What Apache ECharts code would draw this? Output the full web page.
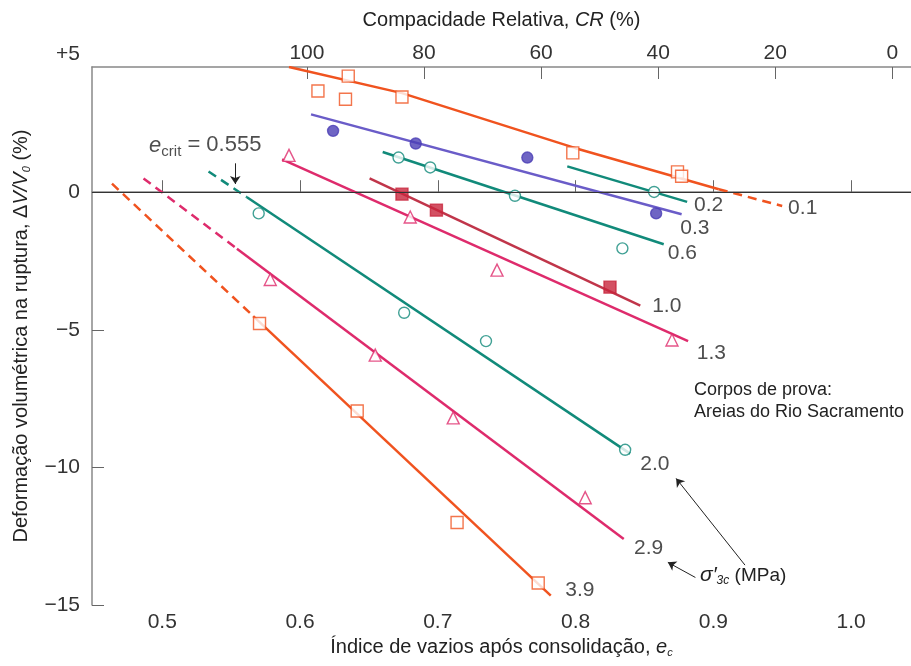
<!DOCTYPE html>
<html>
<head>
<meta charset="utf-8">
<script src="https://cdn.jsdelivr.net/npm/echarts@6/dist/echarts.min.js"></script>
<style>
html,body{margin:0;padding:0;background:#fff;}
#main{width:911px;height:666px;}
</style>
</head>
<body>
<div id="main"></div>
<script>
// indices de vazios limites (escala de cima, CR)
var EMAX = 1.03, EMIN = 0.605;
var eTicks = [0.5, 0.6, 0.7, 0.8, 0.9, 1.0];
var crTicks = [100, 80, 60, 40, 20, 0];
var dvTicks = [5, 0, -5, -10, -15];

// sigma'3c = 0.1 MPa
var fit01 = [[0.592, 4.55], [0.674, 3.6], [0.80, 1.6], [0.904, 0.11]];
var dash01 = [[0.904, 0.11], [0.95, -0.5]];
var pts01 = [[0.613, 3.68], [0.635, 4.22], [0.633, 3.38], [0.674, 3.46], [0.798, 1.43], [0.874, 0.74], [0.877, 0.58]];
// 0.2
var fit02 = [[0.794, 0.94], [0.881, -0.35]];
var pts02 = [[0.857, 0.01]];
// 0.3
var fit03 = [[0.608, 2.83], [0.877, -0.8]];
var pts03 = [[0.624, 2.23], [0.684, 1.77], [0.765, 1.26], [0.8585, -0.77]];
// 0.6
var fit06 = [[0.660, 1.46], [0.864, -1.89]];
var pts06 = [[0.6715, 1.26], [0.6945, 0.9], [0.756, -0.13], [0.834, -2.04]];
// 1.0
var fit10 = [[0.6505, 0.5], [0.847, -4.12]];
var pts10 = [[0.674, -0.07], [0.699, -0.65], [0.825, -3.45]];
// 1.3
var fit13 = [[0.587, 1.19], [0.8817, -5.41]];
var pts13 = [[0.592, 1.34], [0.68, -0.9], [0.743, -2.83], [0.87, -5.37]];
// 2.0
var dash20 = [[0.5336, 0.75], [0.5615, -0.18]];
var fit20 = [[0.5615, -0.18], [0.8396, -9.5]];
var pts20 = [[0.570, -0.77], [0.6756, -4.38], [0.735, -5.41], [0.836, -9.36]];
// 2.9
var dash29 = [[0.4864, 0.5], [0.5542, -2.05]];
var fit29 = [[0.5542, -2.05], [0.835, -12.6]];
var pts29 = [[0.5784, -3.17], [0.6546, -5.92], [0.7112, -8.2], [0.807, -11.1]];
// 3.9
var dash39 = [[0.4635, 0.31], [0.566, -4.5]];
var fit39 = [[0.566, -4.5], [0.782, -14.66]];
var pts39 = [[0.5706, -4.77], [0.6415, -7.95], [0.714, -12.0], [0.7729, -14.2]];

var ORANGE = '#f0531f', PURPLE = '#6a5cc8', TEAL = '#118a7a', CRIMSON = '#c0354a', MAGENTA = '#de2b6c';
var FONT = '"Liberation Sans", Arial, sans-serif';
var TXT = '#222';

var chart = echarts.init(document.getElementById('main'), null, {renderer: 'canvas'});

function fitLine(data, color) {
	return {
		type: 'line', data: data, symbol: 'none', silent: true,
		lineStyle: {color: color, width: 2.5}, z: 2
	};
}
function dashLine(data, color) {
	return {
		type: 'line', data: data, symbol: 'none', silent: true,
		lineStyle: {color: color, width: 2.5, type: [9, 6]}, z: 2
	};
}
function points(data, symbol, color, filled) {
	return {
		type: 'scatter', data: data, symbol: symbol, symbolSize: symbol == 'circle' ? 11 : 12,
		itemStyle: {color: filled ? color : '#fff', borderColor: color, borderWidth: 1.4},
		z: 3, silent: true
	};
}
// rotulo de texto ancorado em coordenadas do grafico (borda esquerda, centro vertical)
function textAt(e, dv, text) {
	return {
		type: 'scatter', data: [[e, dv]], symbolSize: 0, silent: true, z: 4,
		label: {show: true, position: 'right', distance: 0, formatter: text, fontSize: 21, color: TXT, fontFamily: FONT}
	};
}

var option = {
	animation: false,
	backgroundColor: '#fff',
	textStyle: {fontFamily: FONT},
	grid: {left: 92, right: 0, top: 67, bottom: 61},
	xAxis: [{
		type: 'value', min: 0.449, max: 1.0435,
		name: '{n|Índice de vazios após consolidação, }{i|e}{s|c}',
		nameLocation: 'middle', nameGap: 30,
		nameTextStyle: {rich: {
			n: {fontSize: 20, color: TXT, fontFamily: FONT},
			i: {fontSize: 20, color: TXT, fontStyle: 'italic', fontFamily: FONT},
			s: {fontSize: 11, color: TXT, fontStyle: 'italic', padding: [10, 0, 0, 0]}
		}},
		axisLine: {lineStyle: {color: '#888', width: 1.5}},
		axisTick: {inside: true, length: 12, customValues: eTicks, lineStyle: {color: '#666'}},
		axisLabel: {customValues: eTicks, fontSize: 21, color: '#333', margin: 7,
			formatter: function(v) { return v.toFixed(1); }},
		splitLine: {show: false}
	}, {
		type: 'value', position: 'top', min: 0.449, max: 1.0435,
		name: '{n|Compacidade Relativa, }{i|CR}{n| (%)}',
		nameLocation: 'middle', nameGap: 37,
		nameTextStyle: {rich: {
			n: {fontSize: 20, color: TXT, fontFamily: FONT},
			i: {fontSize: 20, color: TXT, fontStyle: 'italic', fontFamily: FONT}
		}},
		axisLine: {lineStyle: {color: '#888', width: 1.5}},
		axisTick: {inside: true, length: 12, lineStyle: {color: '#666'},
			customValues: crTicks.map(function(c) { return EMAX - c / 100 * (EMAX - EMIN); })},
		axisLabel: {fontSize: 21, color: '#333', margin: 3,
			customValues: crTicks.map(function(c) { return EMAX - c / 100 * (EMAX - EMIN); }),
			formatter: function(v) { return String(Math.round((EMAX - v) / (EMAX - EMIN) * 100)); }},
		splitLine: {show: false}
	}],
	yAxis: {
		// o eixo de cima fica um pouco abaixo de +5
		type: 'value', min: -15, max: 4.55,
		name: '{n|Deformação volumétrica na ruptura, Δ}{i|V/V}{s|0}{n| (%)}',
		nameLocation: 'middle', nameGap: 60,
		nameTextStyle: {rich: {
			n: {fontSize: 20, color: TXT, fontFamily: FONT},
			i: {fontSize: 20, color: TXT, fontStyle: 'italic', fontFamily: FONT},
			s: {fontSize: 11, color: TXT, fontStyle: 'italic', padding: [10, 0, 0, 0]}
		}},
		axisLine: {show: true, lineStyle: {color: '#888', width: 1.5}},
		axisTick: {inside: true, length: 12, customValues: dvTicks, lineStyle: {color: '#666'}},
		axisLabel: {fontSize: 21, color: '#333', margin: 12, customValues: dvTicks,
			formatter: function(v) { return v > 0 ? '+' + v : (v < 0 ? '\u2212' + (-v) : '0'); }},
		splitLine: {show: false}
	},
	series: [
		{
			type: 'line', data: [], silent: true,
			markLine: {silent: true, symbol: 'none', label: {show: false},
				lineStyle: {color: '#333', width: 1.2, type: 'solid'},
				data: [{yAxis: 0}]}
		},
		fitLine(fit01, ORANGE), dashLine(dash01, ORANGE), points(pts01, 'rect', ORANGE, false),
		fitLine(fit02, TEAL), points(pts02, 'circle', TEAL, false),
		fitLine(fit03, PURPLE), points(pts03, 'circle', '#4b3fb5', true),
		fitLine(fit06, TEAL), points(pts06, 'circle', TEAL, false),
		fitLine(fit10, CRIMSON), points(pts10, 'rect', '#c8263c', true),
		fitLine(fit13, MAGENTA), points(pts13, 'triangle', MAGENTA, false),
		dashLine(dash20, TEAL), fitLine(fit20, TEAL), points(pts20, 'circle', TEAL, false),
		dashLine(dash29, MAGENTA), fitLine(fit29, MAGENTA), points(pts29, 'triangle', MAGENTA, false),
		dashLine(dash39, ORANGE), fitLine(fit39, ORANGE), points(pts39, 'rect', ORANGE, false),
		textAt(0.9543, -0.57, '0.1'),
		textAt(0.886, -0.49, '0.2'),
		textAt(0.876, -1.31, '0.3'),
		textAt(0.867, -2.2, '0.6'),
		textAt(0.8556, -4.15, '1.0'),
		textAt(0.888, -5.84, '1.3'),
		textAt(0.847, -9.87, '2.0'),
		textAt(0.8425, -12.95, '2.9'),
		textAt(0.7925, -14.45, '3.9'),
		{
			// anotacao e_crit e setas
			type: 'scatter', data: [[0.5312, 1.7]], symbolSize: 0, silent: true,
			label: {show: true, position: 'inside', formatter: '{i|e}{s|crit}{n| = 0.555}',
				rich: {
					i: {fontSize: 22, fontStyle: 'italic', color: TXT},
					s: {fontSize: 15, color: TXT, padding: [12, 0, 0, 0]},
					n: {fontSize: 22, color: TXT}
				}},
			markLine: {silent: true, symbol: ['none', 'arrow'], symbolSize: 8, label: {show: false},
				lineStyle: {color: TXT, width: 1, type: 'solid'},
				data: [[{coord: [0.553, 1.05]}, {coord: [0.553, 0.3]}],
					[{coord: [0.923, -13.55]}, {coord: [0.873, -10.4]}],
					[{coord: [0.887, -14.0]}, {coord: [0.867, -13.45]}]]}
		}
	],
	graphic: [
		{type: 'text', left: 694, top: 381, style: {text: 'Corpos de prova:', font: '18px ' + FONT, fill: TXT}},
		{type: 'text', left: 694, top: 403, style: {text: 'Areias do Rio Sacramento', font: '18px ' + FONT, fill: TXT}},
		{type: 'text', left: 700, top: 565, style: {
			text: '{g|σ′}{s|3c}{n| (MPa)}',
			rich: {
				g: {font: 'italic 21px ' + FONT, fill: TXT},
				s: {font: 'italic 12px ' + FONT, fill: TXT, padding: [11, 0, 0, 0]},
				n: {font: '19px ' + FONT, fill: TXT}
			}}}
	]
};
chart.setOption(option);

// rotulo "+5" acima do eixo superior, na posicao do valor 5
var p5 = chart.convertToPixel({yAxisIndex: 0}, 5);
chart.setOption({graphic: [{type: 'text', id: 'plus5', right: 911 - 80, top: p5 - 11,
	style: {text: '+5', font: '21px ' + FONT, fill: '#333'}}]});
</script>
</body>
</html>
